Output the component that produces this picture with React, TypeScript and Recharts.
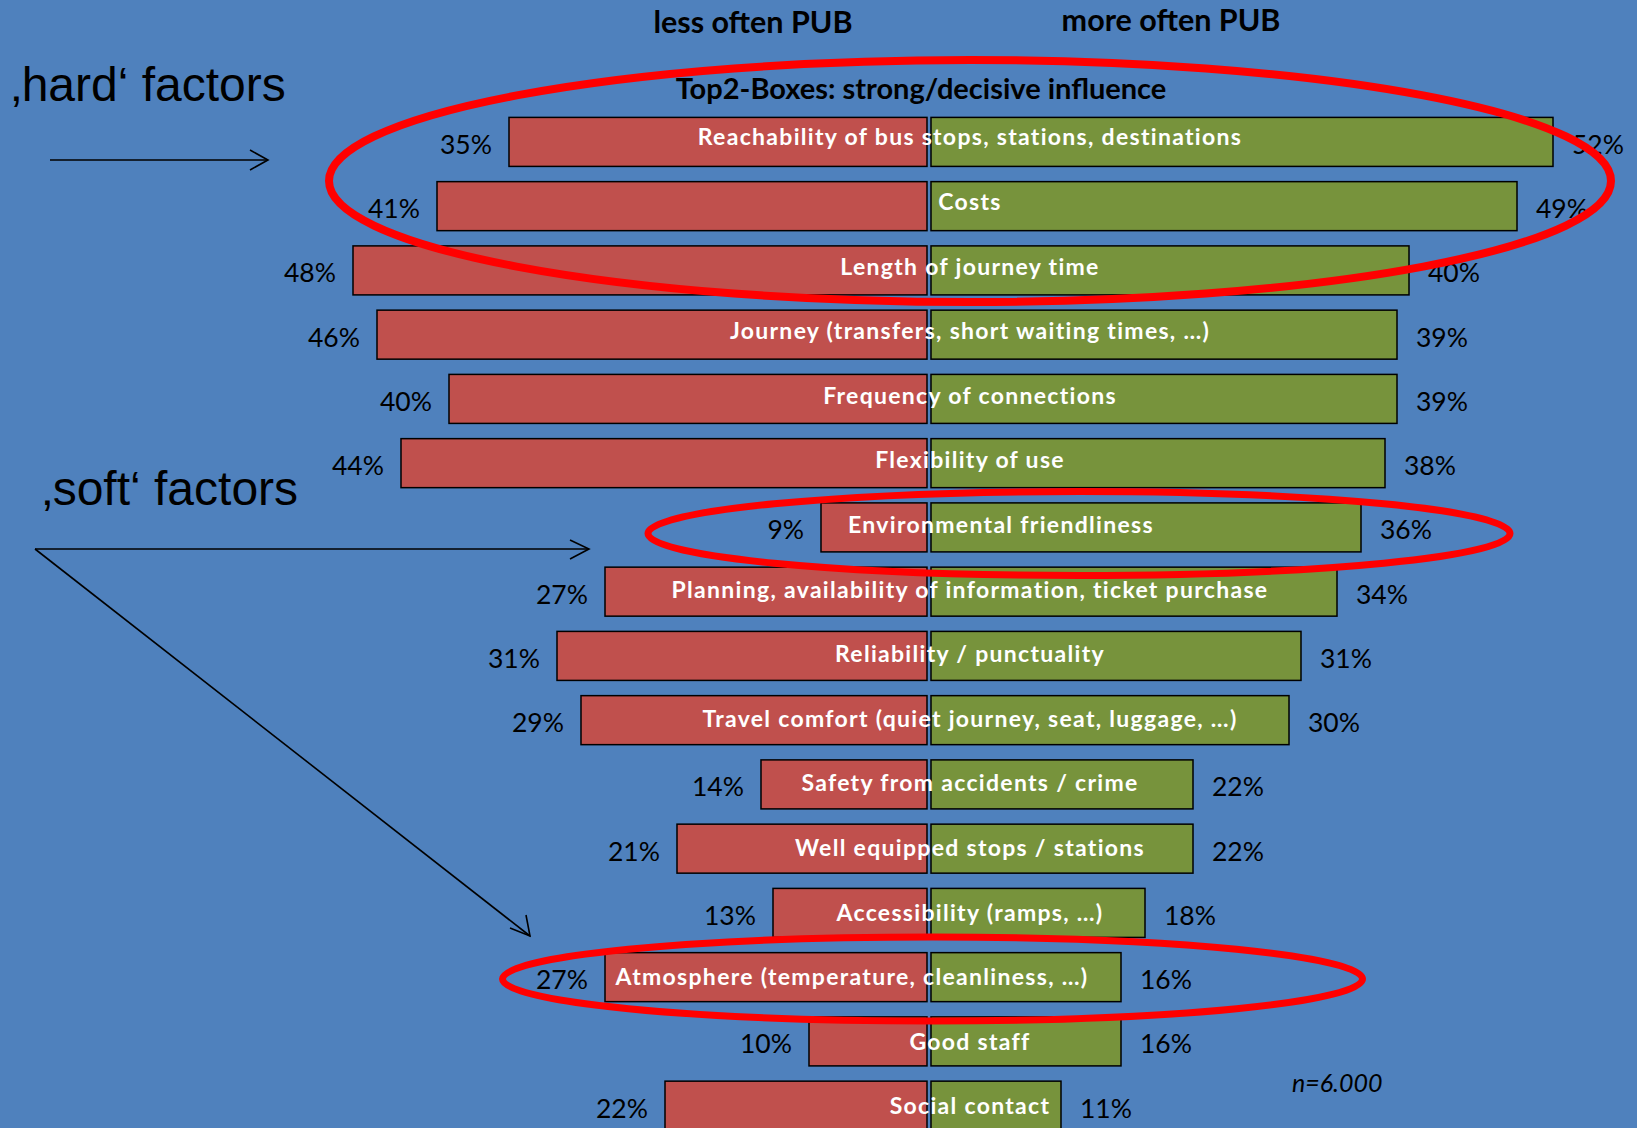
import { BarChart, Bar, XAxis, YAxis, LabelList } from "recharts";

// categories, top to bottom
const factors = [
  "Reachability of bus stops, stations, destinations",
  "Costs",
  "Length of journey time",
  "Journey (transfers, short waiting times, …)",
  "Frequency of connections",
  "Flexibility of use",
  "Environmental friendliness",
  "Planning, availability of information, ticket purchase",
  "Reliability / punctuality",
  "Travel comfort (quiet journey, seat, luggage, …)",
  "Safety from accidents / crime",
  "Well equipped stops / stations",
  "Accessibility (ramps, …)",
  "Atmosphere (temperature, cleanliness, …)",
  "Good staff",
  "Social contact",
];

// Top2-boxes, % of respondents
const lessOften = [35, 41, 48, 46, 40, 44, 9, 27, 31, 29, 14, 21, 13, 27, 10, 22];
const moreOften = [52, 49, 40, 39, 39, 38, 36, 34, 31, 30, 22, 22, 18, 16, 16, 11];

const rows = factors.map((factor, i) => ({
  factor,
  less: -lessOften[i],
  more: moreOften[i],
}));

const BG = "#4F81BD";
const RED = "#C0504D";
const GREEN = "#77933C";
const FONT = "Lato, 'Open Sans', sans-serif";

// label shift from the zero line (px)
const labelShift: Record<string, number> = {
  "Environmental friendliness": 72,
  "Atmosphere (temperature, cleanliness, …)": -77,
};
const DEFAULT_SHIFT = 41;

const norm = (x: number, w: number) => ({ left: Math.min(x, x + w), w: Math.abs(w) });

const LessBar = (p: any) => {
  const { left, w } = norm(p.x, p.width);
  return <rect x={left} y={p.y} width={Math.max(w - 2, 0)} height={p.height} fill={RED} stroke="#000" strokeWidth={1.5} />;
};
const MoreBar = (p: any) => {
  const { left, w } = norm(p.x, p.width);
  return <rect x={left + 2} y={p.y} width={Math.max(w - 2, 0)} height={p.height} fill={GREEN} stroke="#000" strokeWidth={1.5} />;
};

const LessLabel = (p: any) => {
  const { left } = norm(p.x, p.width);
  return (
    <text x={left - 17} y={p.y + p.height / 2 + 12} textAnchor="end" fontFamily={FONT} fontSize={26.5} fill="#000">
      {Math.abs(p.value)}%
    </text>
  );
};
const MoreLabel = (p: any) => {
  const { left, w } = norm(p.x, p.width);
  return (
    <text x={left + w + 19} y={p.y + p.height / 2 + 12} textAnchor="start" fontFamily={FONT} fontSize={26.5} fill="#000">
      {p.value}%
    </text>
  );
};
const FactorLabel = (p: any) => {
  const { left } = norm(p.x, p.width);
  const shift = labelShift[p.value] ?? DEFAULT_SHIFT;
  return (
    <text
      x={left + shift}
      y={p.y + p.height / 2 + 3.5 + p.index * 0.35}
      textAnchor="middle"
      fontFamily={FONT}
      fontWeight={700}
      fontSize={23}
      letterSpacing={1.3}
      fill="#fff"
    >
      {p.value}
    </text>
  );
};

const Overlay = () => (
  <svg width={1637} height={1128} style={{ position: "absolute", left: 0, top: 0, pointerEvents: "none" }}>
    <text x={753} y={33} textAnchor="middle" fontFamily={FONT} fontWeight={700} fontSize={30.5} fill="#000">less often PUB</text>
    <text x={1171} y={31} textAnchor="middle" fontFamily={FONT} fontWeight={700} fontSize={30.5} fill="#000">more often PUB</text>
    <text x={921} y={99} textAnchor="middle" fontFamily={FONT} fontWeight={700} fontSize={29} fill="#000">Top2-Boxes: strong/decisive influence</text>

    <text x={11} y={101} fontFamily="'Liberation Sans', Arial, sans-serif" fontSize={48} fill="#000">‚hard‘ factors</text>
    <text x={42} y={505} fontFamily="'Liberation Sans', Arial, sans-serif" fontSize={48} fill="#000">‚soft‘ factors</text>

    <g stroke="#000" strokeWidth={1.6} fill="none">
      <line x1={50} y1={160} x2={268} y2={160} />
      <polyline points="250,150 268,160 250,170" />
      <line x1={35} y1={549} x2={589} y2={549} />
      <polyline points="570,540 589,549 570,559" />
      <line x1={35} y1={549} x2={530} y2={936} />
      <polyline points="526,915 530,936 510,928" />
    </g>

    <text x={1292} y={1092} fontFamily={FONT} fontStyle="italic" fontSize={25} fill="#000">n=6.000</text>

    <g stroke="#FF0000" fill="none">
      <ellipse cx={970} cy={181} rx={641} ry={121} strokeWidth={8} />
      <ellipse cx={1079} cy={533.5} rx={431} ry={42} strokeWidth={7} />
      <ellipse cx={932.5} cy={979} rx={430} ry={42} strokeWidth={7} />
    </g>
  </svg>
);

export default function App() {
  return (
    <div style={{ position: "absolute", left: 0, top: 0, width: 1637, height: 1128, overflow: "hidden", background: BG }}>
      <BarChart
        width={1637}
        height={1140}
        data={rows}
        layout="vertical"
        stackOffset="sign"
        barSize={49}
        margin={{ top: 109.4, right: 48, bottom: 2.6, left: 209 }}
      >
        <XAxis type="number" domain={[-60, 55]} hide allowDataOverflow />
        <YAxis type="category" dataKey="factor" hide />
        <Bar dataKey="less" stackId="s" shape={LessBar} isAnimationActive={false}>
          <LabelList dataKey="less" content={LessLabel} />
        </Bar>
        <Bar dataKey="more" stackId="s" shape={MoreBar} isAnimationActive={false}>
          <LabelList dataKey="more" content={MoreLabel} />
          <LabelList dataKey="factor" content={FactorLabel} />
        </Bar>
      </BarChart>
      <Overlay />
    </div>
  );
}
